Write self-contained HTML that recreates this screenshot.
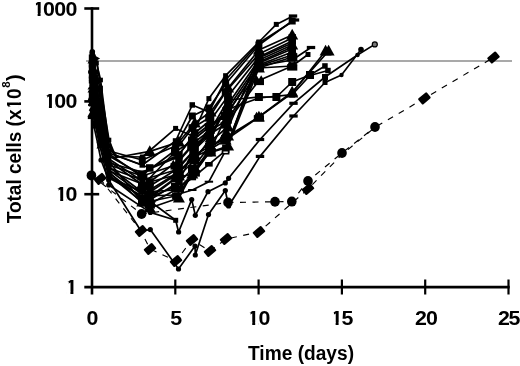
<!DOCTYPE html>
<html><head><meta charset="utf-8"><title>Total cells vs time</title>
<style>html,body{margin:0;padding:0;background:#fff}svg{display:block}text{font-family:"Liberation Sans",sans-serif;font-weight:bold;fill:#000}</style></head><body>
<svg width="520" height="366" viewBox="0 0 520 366">
<rect width="520" height="366" fill="#fff"/>
<line x1="86" y1="61" x2="512" y2="61" stroke="#8c8c8c" stroke-width="1.4"/>
<g stroke="#000" stroke-width="2.6" stroke-linecap="butt">
<line x1="92.0" y1="7.3" x2="92.0" y2="294.5"/>
<line x1="84.3" y1="287.1" x2="509.7" y2="287.1"/>
<line x1="84.3" y1="8.5" x2="99.2" y2="8.5"/>
<line x1="84.3" y1="101.4" x2="99.2" y2="101.4"/>
<line x1="84.3" y1="194.2" x2="99.2" y2="194.2"/>
<line x1="175.3" y1="279.5" x2="175.3" y2="294.5" stroke-width="2.2"/>
<line x1="258.6" y1="279.5" x2="258.6" y2="294.5" stroke-width="2.2"/>
<line x1="341.9" y1="279.5" x2="341.9" y2="294.5" stroke-width="2.2"/>
<line x1="425.2" y1="279.5" x2="425.2" y2="294.5" stroke-width="2.2"/>
<line x1="508.5" y1="279.5" x2="508.5" y2="294.5" stroke-width="2.2"/>
</g>
<text transform="scale(1.07 1)" x="30.51 40.14 50.70 61.26" y="15.5" font-size="20">1000</text>
<g fill="#fff"><rect x="33.29" y="13.26" width="4.34" height="3.04"/><rect x="40.59" y="13.26" width="3.64" height="3.04"/><rect x="33.29" y="3.10" width="2.68" height="4.40"/></g>
<text transform="scale(1.07 1)" x="41.07 50.70 61.26" y="108" font-size="20">100</text>
<g fill="#fff"><rect x="44.59" y="105.76" width="4.34" height="3.04"/><rect x="51.89" y="105.76" width="3.64" height="3.04"/><rect x="44.59" y="95.60" width="2.68" height="4.40"/></g>
<text transform="scale(1.07 1)" x="51.64 61.26" y="201" font-size="20">10</text>
<g fill="#fff"><rect x="55.89" y="198.76" width="4.34" height="3.04"/><rect x="63.19" y="198.76" width="3.64" height="3.04"/><rect x="55.89" y="188.60" width="2.68" height="4.40"/></g>
<text transform="scale(1.07 1)" x="61.17" y="294" font-size="20">1</text>
<g fill="#fff"><rect x="66.09" y="291.76" width="4.34" height="3.04"/><rect x="73.39" y="291.76" width="3.64" height="3.04"/><rect x="66.09" y="281.60" width="2.68" height="4.40"/></g>
<text transform="scale(1.07 1)" x="80.79" y="324.7" font-size="20">0</text>
<text transform="scale(1.07 1)" x="159.11" y="324.7" font-size="20">5</text>
<text transform="scale(1.07 1)" x="231.07 241.54" y="324.7" font-size="20">10</text>
<g fill="#fff"><rect x="247.89" y="322.46" width="4.34" height="3.04"/><rect x="255.19" y="322.46" width="3.64" height="3.04"/><rect x="247.89" y="312.30" width="2.68" height="4.40"/></g>
<text transform="scale(1.07 1)" x="309.02 319.11" y="324.7" font-size="20">15</text>
<g fill="#fff"><rect x="331.29" y="322.46" width="4.34" height="3.04"/><rect x="338.59" y="322.46" width="3.64" height="3.04"/><rect x="331.29" y="312.30" width="2.68" height="4.40"/></g>
<text transform="scale(1.07 1)" x="387.80 398.08" y="324.7" font-size="20">20</text>
<text transform="scale(1.07 1)" x="465.37 475.19" y="324.7" font-size="20">25</text>
<text x="248.0" y="360.2" font-size="19.6" textLength="106" lengthAdjust="spacingAndGlyphs">Time (days)</text>
<g transform="translate(20.6,223.3) rotate(-90)"><text x="0" y="0" font-size="20"><tspan textLength="135" lengthAdjust="spacingAndGlyphs">Total cells (x10</tspan><tspan font-size="11.5" dy="-10.5" dx="0.5">8</tspan><tspan dy="10.5" dx="0.5">)</tspan></text><g fill="#fff"><rect x="114.39" y="-2.24" width="3.87" height="3.04"/><rect x="120.89" y="-2.24" width="3.24" height="3.04"/><rect x="114.39" y="-12.40" width="2.38" height="4.40"/></g></g>
<defs><filter id="soft" x="-2%" y="-2%" width="104%" height="104%"><feGaussianBlur stdDeviation="0.45"/></filter></defs>
<g filter="url(#soft)"><polyline points="92.3,51.8 96.5,63.0 100.6,80.0 109.0,146.0 117.0,156.5 142.3,157.0 175.6,128.4 192.3,136.0 208.9,98.6 225.6,75.7 258.9,42.0 276.3,24.4 293.0,16.0" fill="none" stroke="#000" stroke-width="1.7" stroke-linejoin="round"/>
<g fill="#000"><circle cx="92.3" cy="51.8" r="2.8"/><rect x="94.2" y="60.7" width="4.6" height="4.6"/><rect x="98.3" y="77.7" width="4.6" height="4.6"/><rect x="106.7" y="143.7" width="4.6" height="4.6"/><rect x="139.8" y="154.5" width="5" height="5"/><rect x="173.1" y="125.9" width="5" height="5"/><rect x="189.8" y="133.5" width="5" height="5"/><rect x="206.4" y="96.1" width="5" height="5"/><rect x="223.1" y="73.2" width="5" height="5"/><rect x="256.4" y="39.5" width="5" height="5"/><rect x="273.8" y="21.9" width="5" height="5"/><rect x="288.8" y="14.4" width="8.4" height="3.2"/></g>
<polyline points="92.3,55.0 96.5,58.5 100.6,88.0 109.0,140.0 115.0,155.0 142.3,165.0 175.6,141.0 192.3,105.0 208.9,112.0 225.6,80.0 258.9,43.0 295.0,20.0" fill="none" stroke="#000" stroke-width="1.7" stroke-linejoin="round"/>
<g fill="#000"><rect x="89.5" y="52.2" width="5.5" height="5.5"/><polygon points="100.1,58.5 93.5,54.7 93.5,62.3"/><rect x="98.3" y="85.7" width="4.6" height="4.6"/><rect x="106.7" y="137.7" width="4.6" height="4.6"/><rect x="139.5" y="162.2" width="5.5" height="5.5"/><rect x="172.8" y="138.2" width="5.5" height="5.5"/><rect x="189.5" y="102.2" width="5.5" height="5.5"/><rect x="206.2" y="109.2" width="5.5" height="5.5"/><rect x="222.8" y="77.2" width="5.5" height="5.5"/><rect x="256.1" y="40.2" width="5.5" height="5.5"/><rect x="290.8" y="18.4" width="8.4" height="3.2"/></g>
<polyline points="92.3,58.0 96.5,72.0 100.6,92.0 109.0,151.0 142.3,160.0 175.6,146.0 192.3,116.0 208.9,108.0 225.6,84.0 258.9,45.0 292.2,21.0" fill="none" stroke="#000" stroke-width="1.7" stroke-linejoin="round"/>
<g fill="#000"><rect x="88.8" y="54.5" width="7" height="7"/><rect x="94.2" y="69.7" width="4.6" height="4.6"/><rect x="98.3" y="89.7" width="4.6" height="4.6"/><rect x="106.7" y="148.7" width="4.6" height="4.6"/><rect x="138.8" y="156.5" width="7" height="7"/><rect x="172.1" y="142.5" width="7" height="7"/><rect x="188.8" y="112.5" width="7" height="7"/><rect x="205.4" y="104.5" width="7" height="7"/><rect x="222.1" y="80.5" width="7" height="7"/><rect x="255.4" y="41.5" width="7" height="7"/><rect x="288.7" y="17.5" width="7" height="7"/></g>
<polyline points="92.3,60.0 95.6,76.0 99.8,95.0 109.0,146.0 116.0,157.5 149.8,151.4 178.9,142.0 194.8,123.0 210.6,112.0 228.1,88.0 258.9,50.0 292.2,35.0" fill="none" stroke="#000" stroke-width="1.7" stroke-linejoin="round"/>
<g fill="#000"><polygon points="92.3,55.0 87.5,63.6 97.1,63.6"/><polygon points="95.6,72.6 92.3,78.5 98.9,78.5"/><polygon points="99.8,91.6 96.5,97.5 103.1,97.5"/><polygon points="109.0,142.6 105.7,148.5 112.3,148.5"/><polygon points="149.8,145.2 143.8,155.9 155.8,155.9"/><polygon points="178.9,135.8 172.9,146.5 184.9,146.5"/><polygon points="194.8,116.8 188.8,127.5 200.8,127.5"/><polygon points="210.6,105.8 204.6,116.5 216.6,116.5"/><polygon points="228.1,81.8 222.1,92.5 234.1,92.5"/><polygon points="258.9,43.8 252.9,54.5 264.9,54.5"/><polygon points="292.2,28.8 286.2,39.5 298.2,39.5"/></g>
<polyline points="92.3,64.0 96.5,80.0 100.6,100.0 109.0,156.0 142.3,175.0 175.6,150.0 192.3,128.0 208.9,118.0 225.6,92.0 258.9,54.0 292.2,38.0" fill="none" stroke="#000" stroke-width="1.7" stroke-linejoin="round"/>
<g fill="#000"><rect x="88.8" y="60.5" width="7" height="7"/><rect x="94.2" y="77.7" width="4.6" height="4.6"/><rect x="98.3" y="97.7" width="4.6" height="4.6"/><rect x="106.7" y="153.7" width="4.6" height="4.6"/><rect x="138.5" y="171.2" width="7.5" height="7.5"/><rect x="171.8" y="146.2" width="7.5" height="7.5"/><rect x="188.5" y="124.2" width="7.5" height="7.5"/><rect x="205.2" y="114.2" width="7.5" height="7.5"/><rect x="221.8" y="88.2" width="7.5" height="7.5"/><rect x="255.1" y="50.2" width="7.5" height="7.5"/><rect x="288.5" y="34.2" width="7.5" height="7.5"/></g>
<polyline points="92.3,68.0 95.6,84.0 99.8,104.0 109.0,153.0 149.8,168.0 178.9,155.0 194.8,133.0 210.6,120.0 228.1,96.0 258.9,57.0 292.2,41.0" fill="none" stroke="#000" stroke-width="1.7" stroke-linejoin="round"/>
<g fill="#000"><rect x="88.8" y="64.5" width="7" height="7"/><rect x="93.3" y="81.7" width="4.6" height="4.6"/><rect x="97.5" y="101.7" width="4.6" height="4.6"/><rect x="106.7" y="150.7" width="4.6" height="4.6"/><rect x="146.0" y="164.2" width="7.5" height="7.5"/><rect x="175.2" y="151.2" width="7.5" height="7.5"/><rect x="191.0" y="129.2" width="7.5" height="7.5"/><rect x="206.8" y="116.2" width="7.5" height="7.5"/><rect x="224.3" y="92.2" width="7.5" height="7.5"/><rect x="255.1" y="53.2" width="7.5" height="7.5"/><rect x="288.5" y="37.2" width="7.5" height="7.5"/></g>
<polyline points="92.3,98.0 95.6,112.0 99.8,132.0 109.0,167.0 149.8,198.0 178.9,176.0 194.8,160.0 210.6,138.0 228.1,104.0 258.9,60.0 292.2,45.0" fill="none" stroke="#000" stroke-width="1.7" stroke-linejoin="round"/>
<g fill="#000"><polygon points="92.3,93.0 87.5,101.6 97.1,101.6"/><polygon points="95.6,108.6 92.3,114.5 98.9,114.5"/><polygon points="99.8,128.6 96.5,134.5 103.1,134.5"/><polygon points="109.0,163.6 105.7,169.5 112.3,169.5"/><polygon points="149.8,191.8 143.8,202.5 155.8,202.5"/><polygon points="178.9,169.8 172.9,180.5 184.9,180.5"/><polygon points="194.8,153.8 188.8,164.5 200.8,164.5"/><polygon points="210.6,131.8 204.6,142.5 216.6,142.5"/><polygon points="228.1,97.8 222.1,108.5 234.1,108.5"/><polygon points="258.9,53.8 252.9,64.5 264.9,64.5"/><polygon points="292.2,38.8 286.2,49.5 298.2,49.5"/></g>
<polyline points="92.3,103.0 95.6,116.0 99.8,136.0 109.0,170.0 149.8,200.0 178.9,182.0 194.8,148.0 210.6,128.0 228.1,108.0 258.9,63.0 292.2,49.0" fill="none" stroke="#000" stroke-width="1.7" stroke-linejoin="round"/>
<g fill="#000"><rect x="88.8" y="99.5" width="7" height="7"/><rect x="93.3" y="113.7" width="4.6" height="4.6"/><rect x="97.5" y="133.7" width="4.6" height="4.6"/><rect x="106.7" y="167.7" width="4.6" height="4.6"/><rect x="146.0" y="196.2" width="7.5" height="7.5"/><rect x="175.2" y="178.2" width="7.5" height="7.5"/><rect x="191.0" y="144.2" width="7.5" height="7.5"/><rect x="206.8" y="124.2" width="7.5" height="7.5"/><rect x="224.3" y="104.2" width="7.5" height="7.5"/><rect x="255.1" y="59.2" width="7.5" height="7.5"/><rect x="288.5" y="45.2" width="7.5" height="7.5"/></g>
<polyline points="92.3,108.0 95.6,120.0 99.8,140.0 109.0,173.0 149.8,204.0 178.9,188.0 194.8,172.0 210.6,150.0 228.1,112.0 258.9,66.0 292.2,55.0" fill="none" stroke="#000" stroke-width="1.7" stroke-linejoin="round"/>
<g fill="#000"><polygon points="92.3,104.3 88.7,110.7 95.9,110.7"/><polygon points="95.6,116.6 92.3,122.5 98.9,122.5"/><polygon points="99.8,136.6 96.5,142.5 103.1,142.5"/><polygon points="109.0,169.6 105.7,175.5 112.3,175.5"/><polygon points="147.5,198.8 144.7,203.5 150.3,203.5"/><polygon points="152.1,198.8 149.3,203.5 154.9,203.5"/><rect x="144.7" y="202.2" width="10.2" height="6.4"/><polygon points="176.6,182.8 173.8,187.5 179.4,187.5"/><polygon points="181.2,182.8 178.4,187.5 184.0,187.5"/><rect x="173.8" y="186.2" width="10.2" height="6.4"/><polygon points="192.5,166.8 189.7,171.5 195.3,171.5"/><polygon points="197.1,166.8 194.3,171.5 199.9,171.5"/><rect x="189.7" y="170.2" width="10.2" height="6.4"/><polygon points="208.3,144.8 205.5,149.5 211.1,149.5"/><polygon points="212.9,144.8 210.1,149.5 215.7,149.5"/><rect x="205.5" y="148.2" width="10.2" height="6.4"/><polygon points="225.8,106.8 223.0,111.5 228.6,111.5"/><polygon points="230.4,106.8 227.6,111.5 233.2,111.5"/><rect x="223.0" y="110.2" width="10.2" height="6.4"/><polygon points="256.6,60.8 253.8,65.5 259.4,65.5"/><polygon points="261.2,60.8 258.4,65.5 264.0,65.5"/><rect x="253.8" y="64.2" width="10.2" height="6.4"/><polygon points="289.9,49.8 287.1,54.5 292.7,54.5"/><polygon points="294.5,49.8 291.7,54.5 297.3,54.5"/><rect x="287.1" y="53.2" width="10.2" height="6.4"/></g>
<polyline points="92.3,72.0 96.5,88.0 100.6,108.0 109.0,163.0 142.3,172.0 175.6,158.0 192.3,138.0 208.9,125.0 225.6,116.0 258.9,66.0 292.2,60.0 311.0,47.5" fill="none" stroke="#000" stroke-width="1.7" stroke-linejoin="round"/>
<g fill="#000"><rect x="88.1" y="70.4" width="8.4" height="3.2"/><rect x="94.2" y="85.7" width="4.6" height="4.6"/><rect x="98.3" y="105.7" width="4.6" height="4.6"/><rect x="106.7" y="160.7" width="4.6" height="4.6"/><rect x="138.1" y="170.4" width="8.4" height="3.2"/><rect x="171.4" y="156.4" width="8.4" height="3.2"/><rect x="188.1" y="136.4" width="8.4" height="3.2"/><rect x="204.7" y="123.4" width="8.4" height="3.2"/><rect x="221.4" y="114.4" width="8.4" height="3.2"/><rect x="254.7" y="64.4" width="8.4" height="3.2"/><rect x="288.0" y="58.4" width="8.4" height="3.2"/><rect x="306.8" y="45.9" width="8.4" height="3.2"/></g>
<polyline points="92.3,75.0 95.6,92.0 99.8,112.0 109.0,154.0 149.8,182.0 178.9,160.0 194.8,142.0 210.6,130.0 228.1,120.0 258.9,68.0 292.2,66.0 308.0,54.5" fill="none" stroke="#000" stroke-width="1.7" stroke-linejoin="round"/>
<g fill="#000"><rect x="88.8" y="71.5" width="7" height="7"/><rect x="93.3" y="89.7" width="4.6" height="4.6"/><rect x="97.5" y="109.7" width="4.6" height="4.6"/><rect x="106.7" y="151.7" width="4.6" height="4.6"/><rect x="146.0" y="178.2" width="7.5" height="7.5"/><rect x="175.2" y="156.2" width="7.5" height="7.5"/><rect x="191.0" y="138.2" width="7.5" height="7.5"/><rect x="206.8" y="126.2" width="7.5" height="7.5"/><rect x="224.3" y="116.2" width="7.5" height="7.5"/><rect x="255.1" y="64.2" width="7.5" height="7.5"/><rect x="288.5" y="62.2" width="7.5" height="7.5"/><rect x="305.5" y="52.0" width="5" height="5"/></g>
<polyline points="92.3,78.0 96.5,95.0 100.6,116.0 109.0,165.0 142.3,176.0 175.6,165.0 192.3,146.0 208.9,135.0 225.6,124.0 258.9,80.5 292.2,66.0" fill="none" stroke="#000" stroke-width="1.7" stroke-linejoin="round"/>
<g fill="#000"><polygon points="92.3,74.3 88.7,80.7 95.9,80.7"/><polygon points="96.5,91.6 93.2,97.5 99.8,97.5"/><polygon points="100.6,112.6 97.3,118.5 103.9,118.5"/><polygon points="109.0,161.6 105.7,167.5 112.3,167.5"/><polygon points="140.0,170.8 137.2,175.5 142.8,175.5"/><polygon points="144.6,170.8 141.8,175.5 147.4,175.5"/><rect x="137.2" y="174.2" width="10.2" height="6.4"/><polygon points="173.3,159.8 170.5,164.5 176.1,164.5"/><polygon points="177.9,159.8 175.1,164.5 180.7,164.5"/><rect x="170.5" y="163.2" width="10.2" height="6.4"/><polygon points="190.0,140.8 187.2,145.5 192.8,145.5"/><polygon points="194.6,140.8 191.8,145.5 197.4,145.5"/><rect x="187.2" y="144.2" width="10.2" height="6.4"/><polygon points="206.6,129.8 203.8,134.5 209.4,134.5"/><polygon points="211.2,129.8 208.4,134.5 214.0,134.5"/><rect x="203.8" y="133.2" width="10.2" height="6.4"/><polygon points="223.3,118.8 220.5,123.5 226.1,123.5"/><polygon points="227.9,118.8 225.1,123.5 230.7,123.5"/><rect x="220.5" y="122.2" width="10.2" height="6.4"/><polygon points="256.6,75.3 253.8,80.0 259.4,80.0"/><polygon points="261.2,75.3 258.4,80.0 264.0,80.0"/><rect x="253.8" y="78.7" width="10.2" height="6.4"/><polygon points="289.9,60.8 287.1,65.5 292.7,65.5"/><polygon points="294.5,60.8 291.7,65.5 297.3,65.5"/><rect x="287.1" y="64.2" width="10.2" height="6.4"/></g>
<polyline points="92.3,80.0 95.6,98.0 99.8,118.0 109.0,159.0 149.8,186.0 178.9,168.0 194.8,150.0 210.6,130.0 228.1,100.0 258.9,97.0 276.4,97.0 292.2,82.0 310.0,75.0 325.0,66.0" fill="none" stroke="#000" stroke-width="1.7" stroke-linejoin="round"/>
<g fill="#000"><rect x="88.8" y="76.5" width="7" height="7"/><rect x="93.3" y="95.7" width="4.6" height="4.6"/><rect x="97.5" y="115.7" width="4.6" height="4.6"/><rect x="106.7" y="156.7" width="4.6" height="4.6"/><rect x="145.8" y="182.0" width="8" height="8"/><rect x="174.9" y="164.0" width="8" height="8"/><rect x="190.8" y="146.0" width="8" height="8"/><rect x="206.6" y="126.0" width="8" height="8"/><rect x="224.1" y="96.0" width="8" height="8"/><rect x="254.9" y="93.0" width="8" height="8"/><rect x="272.4" y="93.0" width="8" height="8"/><rect x="288.2" y="78.0" width="8" height="8"/><rect x="306.0" y="71.0" width="8" height="8"/><rect x="322.2" y="63.2" width="5.5" height="5.5"/></g>
<polyline points="92.3,83.0 96.5,100.0 100.6,120.0 109.0,168.0 142.3,180.0 175.6,170.0 192.3,152.0 208.9,136.0 225.6,110.0 258.9,98.0 292.2,94.6 310.0,75.5 328.0,70.5" fill="none" stroke="#000" stroke-width="1.7" stroke-linejoin="round"/>
<g fill="#000"><rect x="89.3" y="80.0" width="6" height="6"/><rect x="94.2" y="97.7" width="4.6" height="4.6"/><rect x="98.3" y="117.7" width="4.6" height="4.6"/><rect x="106.7" y="165.7" width="4.6" height="4.6"/><rect x="139.3" y="177.0" width="6" height="6"/><rect x="172.6" y="167.0" width="6" height="6"/><rect x="189.3" y="149.0" width="6" height="6"/><rect x="205.9" y="133.0" width="6" height="6"/><rect x="222.6" y="107.0" width="6" height="6"/><rect x="255.9" y="95.0" width="6" height="6"/><rect x="289.2" y="91.6" width="6" height="6"/><rect x="307.0" y="72.5" width="6" height="6"/><rect x="325.2" y="67.8" width="5.5" height="5.5"/></g>
<polyline points="92.3,86.0 95.6,103.0 99.8,124.0 109.0,161.0 149.8,190.0 178.9,172.0 194.8,155.0 210.6,146.0 228.1,136.0 258.9,117.0 292.2,93.0 325.6,51.0" fill="none" stroke="#000" stroke-width="1.7" stroke-linejoin="round"/>
<g fill="#000"><polygon points="92.3,81.0 87.5,89.6 97.1,89.6"/><polygon points="95.6,99.6 92.3,105.5 98.9,105.5"/><polygon points="99.8,120.6 96.5,126.5 103.1,126.5"/><polygon points="109.0,157.6 105.7,163.5 112.3,163.5"/><polygon points="149.8,183.8 143.8,194.5 155.8,194.5"/><polygon points="178.9,165.8 172.9,176.5 184.9,176.5"/><polygon points="194.8,148.8 188.8,159.5 200.8,159.5"/><polygon points="210.6,139.8 204.6,150.5 216.6,150.5"/><polygon points="228.1,129.8 222.1,140.5 234.1,140.5"/><polygon points="256.6,111.8 253.8,116.5 259.4,116.5"/><polygon points="261.2,111.8 258.4,116.5 264.0,116.5"/><rect x="253.8" y="115.2" width="10.2" height="6.4"/><polygon points="292.2,86.8 286.2,97.5 298.2,97.5"/><polygon points="325.6,44.8 319.6,55.5 331.6,55.5"/></g>
<polyline points="92.3,89.0 96.5,106.0 100.6,126.0 109.0,171.0 142.3,184.0 175.6,175.0 192.3,158.0 208.9,150.0 225.6,140.0 258.9,117.0 292.2,92.0 328.6,51.0" fill="none" stroke="#000" stroke-width="1.7" stroke-linejoin="round"/>
<g fill="#000"><polygon points="92.3,84.0 87.5,92.6 97.1,92.6"/><polygon points="96.5,102.6 93.2,108.5 99.8,108.5"/><polygon points="100.6,122.6 97.3,128.5 103.9,128.5"/><polygon points="109.0,167.6 105.7,173.5 112.3,173.5"/><polygon points="142.3,177.8 136.3,188.5 148.3,188.5"/><polygon points="175.6,168.8 169.6,179.5 181.6,179.5"/><polygon points="192.3,151.8 186.3,162.5 198.3,162.5"/><polygon points="208.9,143.8 202.9,154.5 214.9,154.5"/><polygon points="225.6,133.8 219.6,144.5 231.6,144.5"/><polygon points="258.9,110.8 252.9,121.5 264.9,121.5"/><polygon points="292.2,85.8 286.2,96.5 298.2,96.5"/><polygon points="328.6,44.8 322.6,55.5 334.6,55.5"/></g>
<polyline points="92.3,100.0 96.5,114.0 100.6,134.0 109.0,177.0 142.3,192.0 175.6,190.0 192.3,178.0 208.9,164.3 225.6,150.7 258.9,62.0 292.2,47.0" fill="none" stroke="#000" stroke-width="1.7" stroke-linejoin="round"/>
<g fill="#000"><rect x="88.5" y="97.7" width="7.6" height="4.6"/><rect x="94.2" y="111.7" width="4.6" height="4.6"/><rect x="98.3" y="131.7" width="4.6" height="4.6"/><rect x="106.7" y="174.7" width="4.6" height="4.6"/><rect x="138.5" y="189.7" width="7.6" height="4.6"/><rect x="171.8" y="187.7" width="7.6" height="4.6"/><rect x="188.5" y="175.7" width="7.6" height="4.6"/><rect x="205.1" y="162.0" width="7.6" height="4.6"/><rect x="221.8" y="148.4" width="7.6" height="4.6"/><rect x="255.4" y="58.5" width="7" height="7"/><rect x="288.7" y="43.5" width="7" height="7"/></g>
<polyline points="92.3,105.0 96.5,118.0 100.6,138.0 109.0,178.0 142.3,196.0 175.6,195.0 192.3,190.0 208.9,181.7 225.6,150.7 258.9,58.0 292.2,43.0" fill="none" stroke="#000" stroke-width="1.7" stroke-linejoin="round"/>
<g fill="#000"><rect x="88.1" y="104.0" width="8.4" height="2"/><rect x="94.2" y="115.7" width="4.6" height="4.6"/><rect x="98.3" y="135.7" width="4.6" height="4.6"/><rect x="106.7" y="175.7" width="4.6" height="4.6"/><rect x="138.1" y="195.0" width="8.4" height="2"/><rect x="171.4" y="194.0" width="8.4" height="2"/><rect x="188.1" y="189.0" width="8.4" height="2"/><rect x="204.7" y="180.7" width="8.4" height="2"/><rect x="222.6" y="147.7" width="6" height="6" fill="#fff" stroke="#000" stroke-width="1.6"/><rect x="255.9" y="55.0" width="6" height="6"/><rect x="289.2" y="40.0" width="6" height="6"/></g>
<polyline points="92.3,113.0 95.6,126.0 99.8,146.0 109.0,175.0 149.8,208.0 178.9,198.0 194.8,168.0 210.6,152.0 228.1,146.0 258.9,68.0 292.2,57.0" fill="none" stroke="#000" stroke-width="1.7" stroke-linejoin="round"/>
<g fill="#000"><polygon points="92.3,108.0 87.5,116.6 97.1,116.6"/><polygon points="95.6,122.6 92.3,128.5 98.9,128.5"/><polygon points="99.8,142.6 96.5,148.5 103.1,148.5"/><polygon points="109.0,171.6 105.7,177.5 112.3,177.5"/><polygon points="149.8,201.8 143.8,212.5 155.8,212.5"/><polygon points="178.9,191.8 172.9,202.5 184.9,202.5"/><polygon points="194.8,161.8 188.8,172.5 200.8,172.5"/><polygon points="210.6,145.8 204.6,156.5 216.6,156.5"/><polygon points="228.1,139.8 222.1,150.5 234.1,150.5"/><polygon points="258.9,61.8 252.9,72.5 264.9,72.5"/><polygon points="292.2,50.8 286.2,61.5 298.2,61.5"/></g>
<polyline points="92.3,95.0 96.5,110.0 100.6,130.0 109.0,172.0 142.3,203.0 175.6,196.0 192.3,176.0 208.9,153.0 225.6,148.0 258.9,65.0 292.2,52.0" fill="none" stroke="#000" stroke-width="1.7" stroke-linejoin="round"/>
<g fill="#000"><rect x="88.8" y="91.5" width="7" height="7"/><rect x="94.2" y="107.7" width="4.6" height="4.6"/><rect x="98.3" y="127.7" width="4.6" height="4.6"/><rect x="106.7" y="169.7" width="4.6" height="4.6"/><rect x="138.8" y="199.5" width="7" height="7"/><rect x="172.1" y="192.5" width="7" height="7"/><rect x="188.8" y="172.5" width="7" height="7"/><rect x="205.4" y="149.5" width="7" height="7"/><rect x="222.1" y="144.5" width="7" height="7"/><rect x="255.4" y="61.5" width="7" height="7"/><rect x="288.7" y="48.5" width="7" height="7"/></g>
<polyline points="92.3,97.0 96.5,111.0 100.6,131.0 109.0,162.0 142.3,202.0 175.6,178.0 192.3,174.0 208.9,150.0 225.6,134.0 258.9,56.0" fill="none" stroke="#000" stroke-width="1.7" stroke-linejoin="round"/>
<g fill="#000"><polygon points="92.3,92.0 87.5,100.6 97.1,100.6"/><polygon points="96.5,107.6 93.2,113.5 99.8,113.5"/><polygon points="100.6,127.6 97.3,133.5 103.9,133.5"/><polygon points="109.0,158.6 105.7,164.5 112.3,164.5"/><polygon points="142.3,195.8 136.3,206.5 148.3,206.5"/><polygon points="175.6,171.8 169.6,182.5 181.6,182.5"/><polygon points="192.3,167.8 186.3,178.5 198.3,178.5"/><polygon points="208.9,143.8 202.9,154.5 214.9,154.5"/><polygon points="225.6,127.8 219.6,138.5 231.6,138.5"/><polygon points="258.9,49.8 252.9,60.5 264.9,60.5"/></g>
<polyline points="142.0,186.0 175.0,152.0 192.0,141.0 209.0,127.0 225.0,116.0" fill="none" stroke="#000" stroke-width="1.7" stroke-linejoin="round"/>
<g fill="#000"><rect x="138.0" y="182.0" width="8" height="8"/><rect x="171.0" y="148.0" width="8" height="8"/><rect x="188.0" y="137.0" width="8" height="8"/><rect x="205.0" y="123.0" width="8" height="8"/><rect x="221.0" y="112.0" width="8" height="8"/></g>
<polyline points="150.0,192.0 178.6,173.0 194.8,157.0 210.6,141.0 228.0,127.0" fill="none" stroke="#000" stroke-width="1.7" stroke-linejoin="round"/>
<g fill="#000"><polygon points="150.0,185.8 144.0,196.5 156.0,196.5"/><polygon points="178.6,166.8 172.6,177.5 184.6,177.5"/><polygon points="194.8,150.8 188.8,161.5 200.8,161.5"/><polygon points="210.6,134.8 204.6,145.5 216.6,145.5"/><polygon points="228.0,120.8 222.0,131.5 234.0,131.5"/></g>
<polyline points="142.0,200.0 175.0,187.0 192.0,169.0 209.0,147.0 225.0,139.0" fill="none" stroke="#000" stroke-width="1.7" stroke-linejoin="round"/>
<g fill="#000"><rect x="138.0" y="196.0" width="8" height="8"/><rect x="171.0" y="183.0" width="8" height="8"/><rect x="188.0" y="165.0" width="8" height="8"/><rect x="205.0" y="143.0" width="8" height="8"/><rect x="221.0" y="135.0" width="8" height="8"/></g>
<polyline points="142.0,196.0 155.0,205.0 175.7,220.3" fill="none" stroke="#000" stroke-width="1.7" stroke-linejoin="round"/>
<g fill="#000"></g>
<polyline points="92.0,110.0 96.0,125.0 100.0,145.0 108.7,185.0 150.3,212.4 175.7,220.3 178.6,232.0 191.7,199.6 195.3,215.3 208.0,191.7 225.3,182.9 228.6,178.3 260.0,139.5 293.5,103.3 325.0,77.0 357.5,55.0 374.8,44.4" fill="none" stroke="#000" stroke-width="1.7" stroke-linejoin="round"/>
<g fill="#000"><circle cx="92.0" cy="110.0" r="2.6"/><circle cx="96.0" cy="125.0" r="2.6"/><circle cx="100.0" cy="145.0" r="2.6"/><circle cx="108.7" cy="185.0" r="2.6"/><circle cx="150.3" cy="212.4" r="2.6"/><rect x="173.2" y="217.8" width="5" height="5"/><circle cx="178.6" cy="232.0" r="2.6"/><circle cx="191.7" cy="199.6" r="2.6"/><circle cx="195.3" cy="215.3" r="2.6"/><circle cx="208.0" cy="191.7" r="2.6"/><circle cx="225.3" cy="182.9" r="2.6"/><circle cx="228.6" cy="178.3" r="2.6"/><rect x="255.8" y="137.9" width="8.4" height="3.2"/><rect x="289.3" y="101.7" width="8.4" height="3.2"/><rect x="322.0" y="74.0" width="6" height="6"/><circle cx="357.5" cy="55.0" r="2.3"/><circle cx="374.8" cy="44.4" r="2.5" fill="#777" stroke="#000" stroke-width="1.2"/></g>
<polyline points="92.0,117.5 97.0,140.0 101.0,160.0 108.7,180.0 141.0,231.0 150.3,229.6 178.5,269.0 195.0,246.0 195.3,255.0 208.5,214.6 225.3,190.5 228.6,206.0 260.0,156.4 293.5,116.0 325.0,82.5 341.5,75.0 361.0,49.5" fill="none" stroke="#000" stroke-width="1.7" stroke-linejoin="round"/>
<g fill="#000"><rect x="87.8" y="115.9" width="8.4" height="3.2"/><circle cx="101.0" cy="160.0" r="2.6"/><circle cx="108.7" cy="180.0" r="2.6"/><circle cx="150.3" cy="229.6" r="2.6"/><circle cx="178.5" cy="269.0" r="2.6"/><circle cx="195.0" cy="246.0" r="2.6"/><circle cx="195.3" cy="255.0" r="2.6"/><circle cx="208.5" cy="214.6" r="2.6"/><circle cx="225.3" cy="190.5" r="2.6"/><circle cx="228.6" cy="206.0" r="2.6"/><rect x="255.8" y="154.8" width="8.4" height="3.2"/><rect x="289.3" y="114.4" width="8.4" height="3.2"/><rect x="322.5" y="80.0" width="5" height="5"/><circle cx="341.5" cy="75.0" r="2.2"/><circle cx="361.0" cy="49.5" r="2.8"/></g>
<polyline points="91.4,175.4 141.6,214.0 228.0,202.5 275.0,201.8 291.8,201.6 308.0,181.0 342.0,153.0 375.0,127.0" fill="none" stroke="#000" stroke-width="1.15" stroke-dasharray="6 6.5" stroke-linejoin="round"/>
<g fill="#000"><ellipse cx="91.4" cy="175.4" rx="4.8" ry="5"/><ellipse cx="141.6" cy="214.0" rx="4.8" ry="5"/><ellipse cx="228.0" cy="202.5" rx="4.8" ry="5"/><ellipse cx="275.0" cy="201.8" rx="4.8" ry="5"/><ellipse cx="291.8" cy="201.6" rx="4.8" ry="5"/><ellipse cx="308.0" cy="181.0" rx="4.8" ry="5"/><ellipse cx="342.0" cy="153.0" rx="4.8" ry="5"/><ellipse cx="375.0" cy="127.0" rx="4.8" ry="5"/></g>
<polyline points="100.2,178.9 141.0,231.0 150.0,249.0 176.0,261.0 192.0,240.0 210.0,251.0 226.0,239.0 259.0,232.0 308.0,189.0 342.0,154.5 375.0,127.3 424.4,98.4 493.5,57.5" fill="none" stroke="#000" stroke-width="1.15" stroke-dasharray="6 6.5" stroke-linejoin="round"/>
<g fill="#000"><rect x="-5.6" y="-3.8" width="11.2" height="7.6" rx="1.2" transform="translate(100.2,178.9) rotate(-40)"/><rect x="-5.6" y="-3.8" width="11.2" height="7.6" rx="1.2" transform="translate(141.0,231.0) rotate(-40)"/><rect x="-5.6" y="-3.8" width="11.2" height="7.6" rx="1.2" transform="translate(150.0,249.0) rotate(-40)"/><rect x="-5.6" y="-3.8" width="11.2" height="7.6" rx="1.2" transform="translate(176.0,261.0) rotate(-40)"/><rect x="-5.6" y="-3.8" width="11.2" height="7.6" rx="1.2" transform="translate(192.0,240.0) rotate(-40)"/><rect x="-5.6" y="-3.8" width="11.2" height="7.6" rx="1.2" transform="translate(210.0,251.0) rotate(-40)"/><rect x="-5.6" y="-3.8" width="11.2" height="7.6" rx="1.2" transform="translate(226.0,239.0) rotate(-40)"/><rect x="-5.6" y="-3.8" width="11.2" height="7.6" rx="1.2" transform="translate(259.0,232.0) rotate(-40)"/><rect x="-5.6" y="-3.8" width="11.2" height="7.6" rx="1.2" transform="translate(308.0,189.0) rotate(-40)"/><rect x="-5.6" y="-3.8" width="11.2" height="7.6" rx="1.2" transform="translate(424.4,98.4) rotate(-40)"/><rect x="-5.6" y="-3.8" width="11.2" height="7.6" rx="1.2" transform="translate(493.5,57.5) rotate(-40)"/></g></g>
</svg></body></html>
